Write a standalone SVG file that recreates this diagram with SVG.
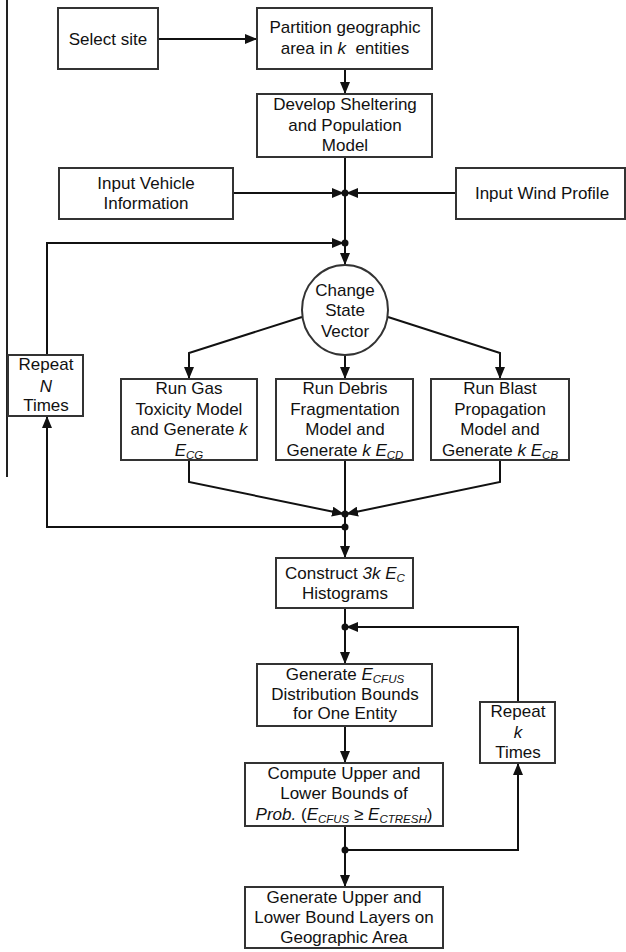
<svg xmlns="http://www.w3.org/2000/svg" width="626" height="952" viewBox="0 0 626 952">
<style>
.box{fill:#fff;stroke:#333;stroke-width:2}
.t{font-family:"Liberation Sans",Arial,sans-serif;font-size:17px;fill:#111;text-anchor:middle}
.i{font-style:italic}
.s{font-size:11.5px;font-style:italic}
.c{fill:none;stroke:#111;stroke-width:2}
.a{marker-end:url(#ah)}
.d{fill:#111}
</style>
<defs>
<marker id="ah" markerUnits="userSpaceOnUse" markerWidth="12" markerHeight="10" refX="12" refY="5" orient="auto">
<path d="M0,0 L12,5 L0,10 z" fill="#111"/>
</marker>
</defs>
<rect width="626" height="952" fill="#fff"/>
<line x1="7" y1="0" x2="7" y2="477" stroke="#222" stroke-width="2"/>

<g id="connectors">
<path class="c a" d="M158,39 H257"/>
<path class="c a" d="M345,69 V94"/>
<path class="c a" d="M345,157 V265"/>
<path class="c a" d="M233,193 H344"/>
<path class="c a" d="M456,193 H346"/>
<path class="c a" d="M345,527 H47 V416"/>
<path class="c a" d="M47,355 V243 H344"/>
<path class="c a" d="M302,317 L189,353 V379"/>
<path class="c a" d="M388,317 L500,353 V379"/>
<path class="c a" d="M345,355 V379"/>
<path class="c a" d="M189,460 V482 L344,514"/>
<path class="c a" d="M500,460 V482 L346,514"/>
<path class="c" d="M345,460 V527"/>
<path class="c a" d="M345,527 V558"/>
<path class="c a" d="M345,608 V664"/>
<path class="c a" d="M518,702 V627 H346"/>
<path class="c a" d="M345,726 V763"/>
<path class="c a" d="M345,826 V887"/>
<path class="c a" d="M345,850 H518 V763"/>
<circle class="d" cx="345" cy="193" r="3.5"/>
<circle class="d" cx="345" cy="243" r="3.5"/>
<circle class="d" cx="345" cy="514" r="3.5"/>
<circle class="d" cx="345" cy="527" r="3.5"/>
<circle class="d" cx="345" cy="627" r="3.5"/>
<circle class="d" cx="345" cy="850" r="3.5"/>
</g>

<g id="select-site">
<rect class="box" x="58" y="8" width="100" height="61"/>
<text class="t" x="108" y="45">Select site</text>
</g>
<g id="partition">
<rect class="box" x="257" y="8" width="175" height="61"/>
<text class="t" x="345" y="33">Partition geographic</text>
<text class="t" x="345" y="54">area in <tspan class="i">k</tspan>&#160; entities</text>
</g>
<g id="develop">
<rect class="box" x="257" y="94" width="175" height="63"/>
<text class="t" x="345" y="110">Develop Sheltering</text>
<text class="t" x="345" y="131">and Population</text>
<text class="t" x="345" y="151">Model</text>
</g>
<g id="input-vehicle">
<rect class="box" x="59" y="168" width="174" height="51"/>
<text class="t" x="146" y="189">Input Vehicle</text>
<text class="t" x="146" y="209">Information</text>
</g>
<g id="input-wind">
<rect class="box" x="456" y="168" width="169" height="51"/>
<text class="t" x="542" y="199">Input Wind Profile</text>
</g>
<g id="change-state">
<ellipse class="box" cx="345" cy="310" rx="43" ry="45"/>
<text class="t" x="345" y="296">Change</text>
<text class="t" x="345" y="316">State</text>
<text class="t" x="345" y="337">Vector</text>
</g>
<g id="repeat-n">
<rect class="box" x="8" y="355" width="75" height="61"/>
<text class="t" x="46" y="370">Repeat</text>
<text class="t i" x="46" y="392">N</text>
<text class="t" x="46" y="411">Times</text>
</g>
<g id="gas">
<rect class="box" x="121" y="379" width="136" height="81"/>
<text class="t" x="189" y="394">Run Gas</text>
<text class="t" x="189" y="415">Toxicity Model</text>
<text class="t" x="189" y="435">and Generate <tspan class="i">k</tspan></text>
<text class="t" x="189" y="456"><tspan class="i">E</tspan><tspan class="s" dy="3">CG</tspan></text>
</g>
<g id="debris">
<rect class="box" x="276" y="379" width="137" height="81"/>
<text class="t" x="345" y="394">Run Debris</text>
<text class="t" x="345" y="415">Fragmentation</text>
<text class="t" x="345" y="435">Model and</text>
<text class="t" x="345" y="456">Generate <tspan class="i">k E</tspan><tspan class="s" dy="3">CD</tspan></text>
</g>
<g id="blast">
<rect class="box" x="431" y="379" width="138" height="81"/>
<text class="t" x="500" y="394">Run Blast</text>
<text class="t" x="500" y="415">Propagation</text>
<text class="t" x="500" y="435">Model and</text>
<text class="t" x="500" y="456">Generate <tspan class="i">k E</tspan><tspan class="s" dy="3">CB</tspan></text>
</g>
<g id="construct">
<rect class="box" x="276" y="558" width="137" height="50"/>
<text class="t" x="345" y="579">Construct <tspan class="i">3k E</tspan><tspan class="s" dy="3">C</tspan></text>
<text class="t" x="345" y="599">Histograms</text>
</g>
<g id="generate-ecfus">
<rect class="box" x="257" y="664" width="175" height="62"/>
<text class="t" x="345" y="680">Generate <tspan class="i">E</tspan><tspan class="s" dy="3">CFUS</tspan></text>
<text class="t" x="345" y="700">Distribution Bounds</text>
<text class="t" x="345" y="719">for One Entity</text>
</g>
<g id="repeat-k">
<rect class="box" x="480" y="702" width="75" height="61"/>
<text class="t" x="518" y="717">Repeat</text>
<text class="t i" x="518" y="738">k</text>
<text class="t" x="518" y="758">Times</text>
</g>
<g id="compute">
<rect class="box" x="245" y="763" width="198" height="63"/>
<text class="t" x="344" y="779">Compute Upper and</text>
<text class="t" x="344" y="799">Lower Bounds of</text>
<text class="t" x="344" y="820"><tspan class="i">Prob.</tspan> (<tspan class="i">E</tspan><tspan class="s" dy="3">CFUS</tspan><tspan dy="-3"> ≥ </tspan><tspan class="i">E</tspan><tspan class="s" dy="3">CTRESH</tspan><tspan dy="-3">)</tspan></text>
</g>
<g id="final">
<rect class="box" x="245" y="887" width="198" height="61"/>
<text class="t" x="344" y="903">Generate Upper and</text>
<text class="t" x="344" y="923">Lower Bound Layers on</text>
<text class="t" x="344" y="943">Geographic Area</text>
</g>
</svg>
